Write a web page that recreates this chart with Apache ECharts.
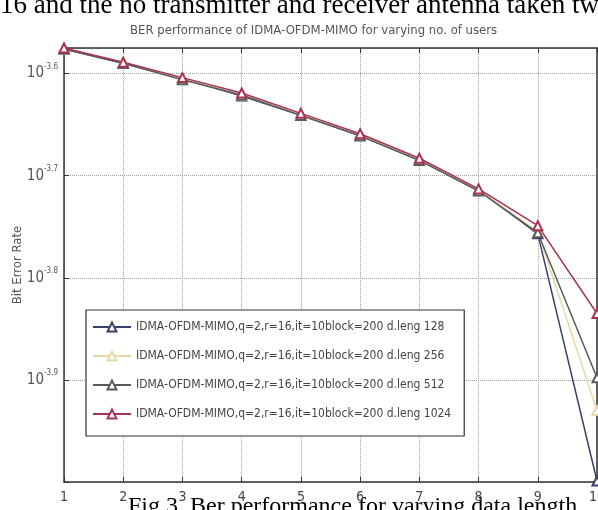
<!DOCTYPE html>
<html lang="en">
<head>
    <meta charset="UTF-8">
    <title>BER IDMA-OFDM-MIMO</title>
    <script src="https://cdn.jsdelivr.net/npm/echarts@6/dist/echarts.min.js"></script>
    <style>
        html, body { margin: 0; padding: 0; background: #fff; }
    </style>
</head>
<body>
<div id="main" style="width: 598px;height: 510px"></div>
</body>

<script>
    var NARROW = '"Liberation Sans Narrow", "DejaVu Sans Condensed", sans-serif';

    // no. of users
    var users = [1, 2, 3, 4, 5, 6, 7, 8, 9, 10];
    // BER as log10 exponent
    var ber128 = [-3.576, -3.590, -3.605, -3.622, -3.641, -3.661, -3.685, -3.714, -3.757, -3.999];
    var ber256 = [-3.576, -3.589, -3.605, -3.621, -3.640, -3.660, -3.684, -3.714, -3.755, -3.930];
    var ber512 = [-3.576, -3.590, -3.606, -3.621, -3.641, -3.661, -3.685, -3.715, -3.756, -3.898];
    var ber1024 = [-3.575, -3.589, -3.604, -3.619, -3.639, -3.659, -3.683, -3.713, -3.749, -3.835];

    var names = [
        'IDMA-OFDM-MIMO,q=2,r=16,it=10block=200 d.leng 128',
        'IDMA-OFDM-MIMO,q=2,r=16,it=10block=200 d.leng 256',
        'IDMA-OFDM-MIMO,q=2,r=16,it=10block=200 d.leng 512',
        'IDMA-OFDM-MIMO,q=2,r=16,it=10block=200 d.leng 1024'
    ];
    var colors = ['#3b3f6b', '#e6d9a6', '#5a5a5a', '#a8324f'];
    var allData = [ber128, ber256, ber512, ber1024];

    var myChart = echarts.init(document.getElementById('main'));

    var series = [];
    for (var i = 0; i < allData.length; i++) {
        var pts = [];
        for (var j = 0; j < users.length; j++) {
            pts.push([users[j], allData[i][j]]);
        }
        series.push({
            name: names[i],
            type: 'line',
            data: pts,
            symbol: 'emptyTriangle',
            symbolSize: 9,
            clip: false,
            lineStyle: {color: colors[i], width: 1.5},
            itemStyle: {color: colors[i], borderColor: colors[i], borderWidth: 1.2}
        });
    }

    var option = {
        animation: false,
        color: colors,
        title: {
            text: 'BER performance of IDMA-OFDM-MIMO for varying no. of users',
            left: 125,
            top: 19,
            textStyle: {fontSize: 13, fontWeight: 'normal', color: '#555', fontFamily: NARROW}
        },
        graphic: [{
            type: 'text',
            left: 0,
            top: -8,
            style: {
                text: '16 and the no transmitter and receiver antenna taken tw',
                fontSize: 27,
                fontFamily: '"Liberation Serif", serif',
                fill: '#000'
            }
        }, {
            type: 'text',
            left: 128,
            top: 495,
            z: -1,
            style: {
                text: 'Fig 3. Ber performance for varying data length',
                fontSize: 24,
                fontFamily: '"Liberation Serif", serif',
                fill: '#000'
            }
        }],
        legend: {
            orient: 'vertical',
            left: 86,
            top: 310,
            padding: [11, 13, 16, 6],
            itemGap: 17,
            itemWidth: 38,
            itemHeight: 11,
            backgroundColor: '#fff',
            borderColor: '#333',
            borderWidth: 1.2,
            borderRadius: 0,
            textStyle: {fontSize: 12, color: '#444', fontFamily: NARROW},
            data: names
        },
        grid: {
            left: 64,
            right: 1,
            top: 48,
            bottom: 28,
            outerBoundsMode: 'none',
            containLabel: false
        },
        xAxis: [{
            type: 'value',
            min: 1,
            max: 10,
            interval: 1,
            axisLine: {lineStyle: {color: '#333', width: 1.5}},
            axisTick: {inside: true, length: 5, lineStyle: {color: '#333'}},
            axisLabel: {margin: 8, fontSize: 14, color: '#444', fontFamily: NARROW},
            splitLine: {show: true, lineStyle: {type: 'dotted', color: '#a0a0a0'}}
        }, {
            type: 'value',
            position: 'top',
            min: 1,
            max: 10,
            interval: 1,
            axisLine: {onZero: false, lineStyle: {color: '#333', width: 1.5}},
            axisTick: {inside: true, length: 5, lineStyle: {color: '#333'}},
            axisLabel: {show: false},
            splitLine: {show: false}
        }],
        yAxis: [{
            type: 'value',
            min: -4,
            max: -3.575,
            interval: 0.1,
            name: 'Bit Error Rate',
            nameLocation: 'middle',
            nameGap: 40,
            nameMoveOverlap: false,
            nameTextStyle: {fontSize: 13, color: '#555', fontFamily: NARROW},
            axisLine: {lineStyle: {color: '#333', width: 1.5}},
            axisTick: {inside: true, length: 5, lineStyle: {color: '#333'}},
            axisLabel: {
                margin: 6,
                formatter: function (v) {
                    var k = Math.round(v * 10);
                    if (Math.abs(v * 10 - k) > 1e-6 || k === -40) return '';
                    return '{a|10}{b|' + (k / 10).toFixed(1) + '}';
                },
                rich: {
                    a: {fontSize: 15, color: '#555', fontFamily: NARROW},
                    b: {fontSize: 8, color: '#555', fontFamily: NARROW, padding: [0, 0, 14, 0]}
                }
            },
            splitLine: {show: true, lineStyle: {type: 'dotted', color: '#a0a0a0'}}
        }, {
            type: 'value',
            position: 'right',
            min: -4,
            max: -3.575,
            interval: 0.1,
            axisLine: {show: true, onZero: false, lineStyle: {color: '#333', width: 1.5}},
            axisTick: {show: false},
            axisLabel: {show: false},
            splitLine: {show: false}
        }],
        series: series
    };

    myChart.setOption(option);
</script>

</html>
